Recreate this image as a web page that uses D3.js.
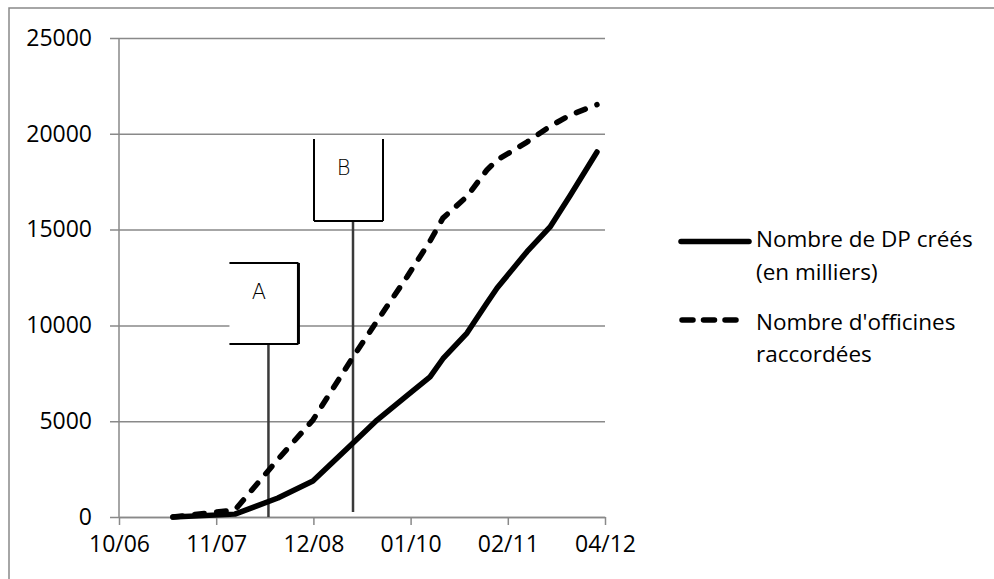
<!DOCTYPE html>
<html>
<head>
<meta charset="utf-8">
<script src="https://cdn.jsdelivr.net/npm/d3@7"></script>
<style>
    body { margin: 0; background: #fff; }
    svg { display: block; }
</style>
</head>
<body>
<div id="chart"></div>
<script>
// data
var dates = ["2007-05-21", "2008-01-31", "2008-07-26", "2008-12-17", "2009-05-31", "2009-09-07",
             "2010-01-08", "2010-04-13", "2010-06-05", "2010-09-12", "2010-12-03", "2011-01-14",
             "2011-05-17", "2011-08-20", "2011-11-10", "2012-02-29"];
var dp_crees = [0, 150, 990, 1880, 3860, 5060, 6330, 7310, 8260, 9600, 11170, 11950, 13850, 15140, 16770, 19050];
var officines = [0, 365, 3010, 5060, 8350, 10230, 12530, 14400, 15600, 16730, 18110, 18630, 19570, 20390, 20980, 21520];

var series_names = [["Nombre de DP créés", "(en milliers)"], ["Nombre d'officines", "raccordées"]];

var x_domain = ["2006-10-11", "2012-04-02"];
var x_tick_dates = ["2006-10-11", "2007-11-15", "2008-12-19", "2010-01-23", "2011-02-27", "2012-04-02"];
var x_tick_labels = ["10/06", "11/07", "12/08", "01/10", "02/11", "04/12"];
var y_ticks = [0, 5000, 10000, 15000, 20000, 25000];

// callouts: date of the leader, value at its foot, value at box bottom, value at box top
var annot_labels = ["A", "B"];
var annot_dates = ["2008-06-17", "2009-05-31"];
var annot_foot = [0, 260];
var annot_box_bottom = [9030, 15450];
var annot_box_top = [13260, 19730];
var box_sides = { A: ["top", "right", "bottom"], B: ["left", "right", "bottom"] };

var parse = d3.utcParse("%Y-%m-%d");
var font = "'Open Sans', sans-serif";
var grey = "#898989";

function create_chart() {
    var svg = d3.select("#chart").append("svg")
        .attr("width", 994)
        .attr("height", 579);

    // outer frame (only top and left edges show)
    svg.append("path")
        .attr("d", "M9,579V8H994")
        .attr("fill", "none")
        .attr("stroke", grey)
        .attr("stroke-width", 1.5);

    var x = d3.scaleUtc()
        .domain(x_domain.map(parse))
        .range([119, 605]);
    var y = d3.scaleLinear()
        .domain([0, 25000])
        .range([517, 38]);

    // gridlines + y axis
    var y_axis = svg.append("g")
        .attr("transform", "translate(119,0)")
        .call(d3.axisLeft(y).tickValues(y_ticks).tickFormat(d3.format("d"))
            .tickSize(-486).tickSizeOuter(0));
    y_axis.select(".domain").remove();
    y_axis.selectAll(".tick line")
        .attr("x1", -9)
        .attr("stroke", grey)
        .attr("stroke-width", 1.5);
    y_axis.selectAll(".tick text")
        .attr("x", -27)
        .attr("font-family", font)
        .attr("font-size", "23px")
        .attr("fill", "#000");
    svg.append("line")
        .attr("x1", 119).attr("x2", 119)
        .attr("y1", y(25000)).attr("y2", y(0))
        .attr("stroke", grey)
        .attr("stroke-width", 1.5);

    // x axis
    var x_axis = svg.append("g")
        .attr("transform", "translate(0," + y(0) + ")")
        .call(d3.axisBottom(x)
            .tickValues(x_tick_dates.map(parse))
            .tickFormat(function(d, i) { return x_tick_labels[i]; })
            .tickSize(8).tickSizeOuter(0).tickPadding(11));
    x_axis.select(".domain").attr("stroke", grey).attr("stroke-width", 1.5);
    x_axis.selectAll(".tick line").attr("stroke", grey).attr("stroke-width", 1.5);
    x_axis.selectAll(".tick text")
        .attr("font-family", font)
        .attr("font-size", "23px")
        .attr("fill", "#000");

    // callouts A and B
    annot_labels.forEach(function(label, i) {
        var lx = x(parse(annot_dates[i]));
        var top = y(annot_box_top[i]);
        var bottom = y(annot_box_bottom[i]);
        var left = lx - 39;
        var right = lx + 30;
        var g = svg.append("g");

        g.append("line")
            .attr("x1", lx).attr("x2", lx)
            .attr("y1", bottom).attr("y2", y(annot_foot[i]))
            .attr("stroke", "#3a3a3a")
            .attr("stroke-width", 2.5);

        g.append("rect")
            .attr("x", left).attr("y", top)
            .attr("width", right - left).attr("height", bottom - top)
            .attr("fill", "#fff");

        var edges = {
            top: [left, top, right, top],
            right: [right, top, right, bottom],
            bottom: [left, bottom, right, bottom],
            left: [left, top, left, bottom]
        };
        box_sides[label].forEach(function(side) {
            var e = edges[side];
            g.append("line")
                .attr("x1", e[0]).attr("y1", e[1])
                .attr("x2", e[2]).attr("y2", e[3])
                .attr("stroke", "#000")
                .attr("stroke-width", side == "right" && label == "A" ? 3 : 2);
        });

        g.append("text")
            .attr("x", (left + right) / 2 - 5)
            .attr("y", top + 36)
            .attr("text-anchor", "middle")
            .attr("font-family", "'DejaVu Sans', sans-serif")
            .attr("font-weight", 300)
            .attr("font-size", "21px")
            .attr("fill", "#000")
            .text(label);
    });

    // series lines
    var points_dp = dates.map(function(d, i) { return [parse(d), dp_crees[i]]; });
    var points_off = dates.map(function(d, i) { return [parse(d), officines[i]]; });
    var line = d3.line()
        .x(function(d) { return x(d[0]); })
        .y(function(d) { return y(d[1]); });

    svg.append("path")
        .datum(points_off)
        .attr("d", line)
        .attr("fill", "none")
        .attr("stroke", "#000")
        .attr("stroke-width", 5.5)
        .attr("stroke-linecap", "round")
        .attr("stroke-linejoin", "round")
        .attr("stroke-dasharray", "9.5,12.5");

    svg.append("path")
        .datum(points_dp)
        .attr("d", line)
        .attr("fill", "none")
        .attr("stroke", "#000")
        .attr("stroke-width", 5.5)
        .attr("stroke-linecap", "round")
        .attr("stroke-linejoin", "round");

    // legend
    var legend = svg.append("g");
    var legend_rows = [
        { y: 241.5, dash: null, x1: 681, x2: 749, text_y: [247, 280] },
        { y: 320, dash: "11,10.5", x1: 682, x2: 736, text_y: [330, 362] }
    ];
    legend_rows.forEach(function(row, i) {
        legend.append("line")
            .attr("x1", row.x1).attr("x2", row.x2)
            .attr("y1", row.y).attr("y2", row.y)
            .attr("stroke", "#000")
            .attr("stroke-width", 5.5)
            .attr("stroke-linecap", "round")
            .attr("stroke-dasharray", row.dash);
        series_names[i].forEach(function(t, j) {
            legend.append("text")
                .attr("x", 756)
                .attr("y", row.text_y[j])
                .attr("font-family", font)
                .attr("font-size", "22.5px")
                .attr("fill", "#000")
                .text(t);
        });
    });
}

create_chart();
</script>
</body>
</html>
